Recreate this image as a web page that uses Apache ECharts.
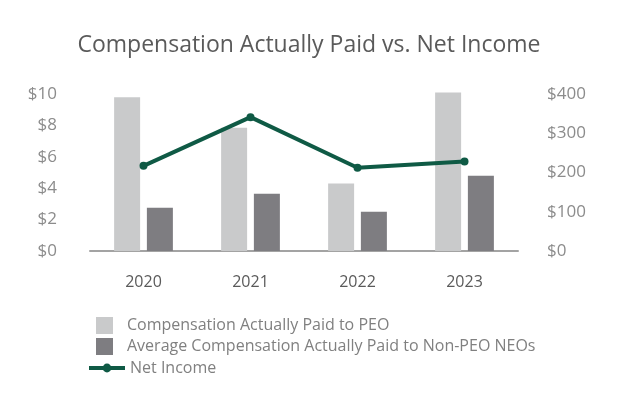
<!DOCTYPE html>
<html><head><meta charset="utf-8">
<script src="https://cdn.jsdelivr.net/npm/echarts@6/dist/echarts.min.js"></script>
<style>html,body{margin:0;padding:0;background:#fff}#c{width:618px;height:400px}</style>
</head><body><div id="c"></div>
<script>
const categories = ['2020', '2021', '2022', '2023'];
const peoCap = [9.8, 7.85, 4.3, 10.1];
const neoCap = [2.75, 3.65, 2.5, 4.8];
const netIncome = [217, 341, 212, 228];
const leftTicks = [0, 2, 4, 6, 8, 10];
const rightTicks = [0, 100, 200, 300, 400];
const seriesNames = ['Compensation Actually Paid to PEO', 'Average Compensation Actually Paid to Non-PEO NEOs', 'Net Income'];

const FONT = "'Open Sans', 'Noto Sans', sans-serif";
const chart = echarts.init(document.getElementById('c'), null, {renderer: 'canvas'});
chart.setOption({
  animation: false,
  title: {
    text: 'Compensation Actually Paid vs. Net Income',
    left: 'center', top: 29,
    textStyle: {fontFamily: FONT, fontSize: 23, fontWeight: 'normal', color: '#5a5a5a'}
  },
  legend: [
    {data: [seriesNames[0]], orient: 'vertical', left: 91, top: 312, itemWidth: 17, itemHeight: 17, icon: 'rect',
     textStyle: {fontFamily: FONT, fontSize: 16, color: '#808080', padding: [0, 0, 0, 9]}},
    {data: [seriesNames[1]], orient: 'vertical', left: 91, top: 333, itemWidth: 17, itemHeight: 17, icon: 'rect',
     textStyle: {fontFamily: FONT, fontSize: 16, color: '#808080', padding: [0, 0, 0, 9]}},
    {data: [seriesNames[2]], orient: 'vertical', left: 82, top: 355, itemWidth: 36, itemHeight: 11,
     lineStyle: {width: 4},
     textStyle: {fontFamily: FONT, fontSize: 16, color: '#808080', padding: [0, 0, 0, 0]}}
  ],
  grid: {left: 90, right: 100, top: 94, bottom: 149},
  xAxis: {
    type: 'category', data: categories,
    axisLine: {lineStyle: {color: '#a3a3a3', width: 2}},
    axisTick: {show: false},
    axisLabel: {fontFamily: FONT, fontSize: 16, color: '#5a5a5a', margin: 23}
  },
  yAxis: [
    {type: 'value', min: leftTicks[0], max: leftTicks[leftTicks.length - 1], interval: 2,
     splitLine: {show: false}, axisLine: {show: false}, axisTick: {show: false},
     axisLabel: {fontFamily: FONT, fontSize: 17, color: '#8c8c8c', margin: 33, formatter: v => '$' + v}},
    {type: 'value', min: rightTicks[0], max: rightTicks[rightTicks.length - 1], interval: 100,
     splitLine: {show: false}, axisLine: {show: false}, axisTick: {show: false},
     axisLabel: {fontFamily: FONT, fontSize: 17, color: '#8c8c8c', margin: 29, formatter: v => '$' + v}}
  ],
  series: [
    {name: seriesNames[0], type: 'bar', data: peoCap, barWidth: 26, barGap: '26%', clip: false,
     itemStyle: {color: '#c9cacb'}, yAxisIndex: 0},
    {name: seriesNames[1], type: 'bar', data: neoCap, barWidth: 26, barGap: '26%', clip: false,
     itemStyle: {color: '#7e7d81'}, yAxisIndex: 0},
    {name: seriesNames[2], type: 'line', data: netIncome, yAxisIndex: 1,
     symbol: 'circle', symbolSize: 8,
     lineStyle: {color: '#0f5a45', width: 4}, itemStyle: {color: '#0f5a45'}}
  ]
});
</script></body></html>
